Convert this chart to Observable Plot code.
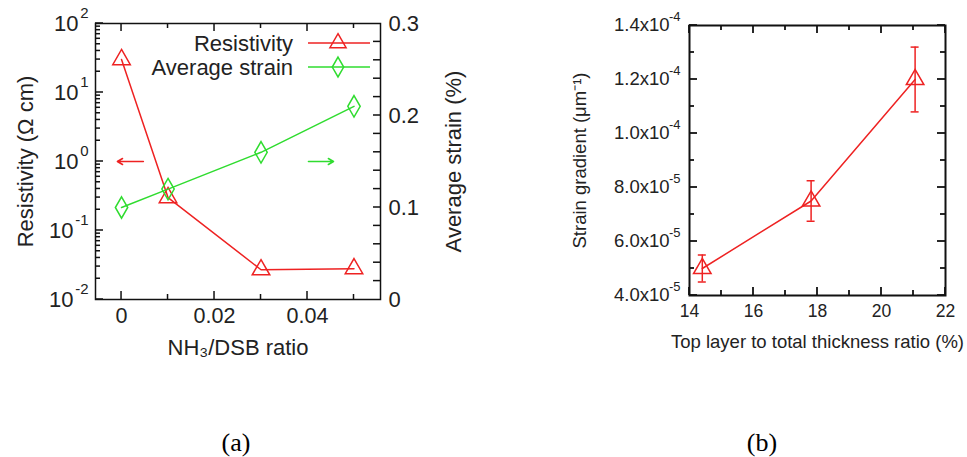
<!DOCTYPE html>
<html>
<head>
<meta charset="utf-8">
<script src="https://cdn.jsdelivr.net/npm/d3@7"></script>
<script src="https://cdn.jsdelivr.net/npm/@observablehq/plot@0.6"></script>
<style>
  html, body { margin: 0; padding: 0; background: #fff; }
  #root { position: relative; width: 967px; height: 457px; overflow: hidden; background: #fff;
          font-family: "Liberation Sans", Arial, Helvetica, sans-serif; color: #222; }
  .panel { position: absolute; top: 0; }
  .cap { position: absolute; top: 432px; font-family: "Liberation Serif", "Times New Roman", serif;
         font-size: 26px; line-height: 22px; color: #000; transform: translateX(-50%); }
</style>
</head>
<body>
<div id="root">
  <div id="a1" class="panel" style="left:0;width:480px"></div>
  <div id="a2" class="panel" style="left:0;width:480px"></div>
  <div id="b" class="panel" style="left:480px;width:487px"></div>
  <div class="cap" style="left:236px">(a)</div>
  <div class="cap" style="left:762px">(b)</div>
</div>
<script>
// ---------- data: panel (a) ----------
const ratio = [0, 0.01, 0.03, 0.05];
const resistivity = [30, 0.3, 0.027, 0.028];      // Ω cm
const avgStrain = [0.10, 0.12, 0.16, 0.21];       // %

// ---------- data: panel (b) ----------
const thickness = [14.4, 17.8, 21.05];            // %
const strainGradient = [5.0e-5, 7.5e-5, 1.2e-4];  // µm^-1
const gradientError = [0.5e-5, 0.75e-5, 1.2e-5];

// ---------- ticks / labels ----------
const aXMajor = [0, 0.02, 0.04];
const aXMinor = [0.01, 0.03, 0.05];
const aResDecades = [0.01, 0.1, 1, 10, 100];
const aStrainLabels = [0, 0.1, 0.2, 0.3];
const aStrainTicks = [0.02, 0.04, 0.06, 0.08, 0.1, 0.12, 0.14, 0.16, 0.18, 0.2, 0.22, 0.24, 0.26, 0.28];
const bXMajor = [14, 16, 18, 20, 22];
const bXMinor = [15, 17, 19, 21];
const bYMajor = [4e-5, 6e-5, 8e-5, 1.0e-4, 1.2e-4, 1.4e-4];
const bYMinor = [5e-5, 7e-5, 9e-5, 1.1e-4, 1.3e-4];

// direction arrows (annotation)
const resArrow = [{from: 0.0047, to: -0.0009, at: 1}];
const strainArrow = [{from: 0.0402, to: 0.0456, at: 0.15}];

const RED = "#ee2222";
const GREEN = "#2fdc2f";
const INK = "#222";
const FONT = "Liberation Sans, Arial, sans-serif";

const aResMinor = aResDecades.slice(0, -1).flatMap(d => [2,3,4,5,6,7,8,9].map(k => +(d * k).toPrecision(3)));

const resData = ratio.map((x, i) => ({x, y: resistivity[i]}));
const strainData = ratio.map((x, i) => ({x, y: avgStrain[i]}));
const gradData = thickness.map((x, i) => ({x, y: strainGradient[i], lo: strainGradient[i] - gradientError[i], hi: strainGradient[i] + gradientError[i]}));

const xDomainA = [-0.0056, 0.0557];

// inward frame ticks: a render mark that places each tick through the plot's own scales
function frameTicks(specs, w = 1.5) {
  return (index, scales, values, dims) => {
    const g = d3.create("svg:g").attr("stroke", "#111").attr("stroke-width", w).attr("fill", "none");
    const L = dims.marginLeft, R = dims.width - dims.marginRight;
    const T = dims.marginTop, B = dims.height - dims.marginBottom;
    for (const {values: vals, anchor, size} of specs) {
      for (const v of vals) {
        if (anchor === "bottom" || anchor === "top") {
          const x = scales.x(v);
          if (!(x >= L - 0.5 && x <= R + 0.5)) continue;
          const y0 = anchor === "bottom" ? B : T;
          const y1 = anchor === "bottom" ? B - size : T + size;
          g.append("line").attr("x1", x).attr("x2", x).attr("y1", y0).attr("y2", y1);
        } else {
          const y = scales.y(v);
          if (!(y >= T - 0.5 && y <= B + 0.5)) continue;
          const x0 = anchor === "left" ? L : R;
          const x1 = anchor === "left" ? L + size : R - size;
          g.append("line").attr("x1", x0).attr("x2", x1).attr("y1", y).attr("y2", y);
        }
      }
    }
    return g.node();
  };
}

const expo = d => Math.floor(Math.log10(d) + 1e-9);

function legendMark(items) {
  return (index, scales, values, dims) => {
    const g = d3.create("svg:g");
    const xr = dims.width - dims.marginRight;
    items.forEach((it, i) => {
      const y = dims.marginTop + 20 + i * 24;
      g.append("text").attr("x", xr - 87).attr("y", y).attr("dy", "0.35em")
        .attr("text-anchor", "end").attr("font-size", 22).attr("fill", INK).text(it.label);
      g.append("line").attr("x1", xr - 72).attr("x2", xr - 10).attr("y1", y).attr("y2", y)
        .attr("stroke", it.color).attr("stroke-width", 1.5);
      g.append("path").attr("transform", `translate(${xr - 42},${y})`)
        .attr("d", d3.symbol().type(it.symbol).size(Math.PI * 6 * 6)())
        .attr("fill", "none").attr("stroke", it.color).attr("stroke-width", 1.5);
    });
    return g.node();
  };
}

const posDec = aResDecades.filter(d => d >= 1);
const negDec = aResDecades.filter(d => d < 1);

// ---------- panel (a): resistivity (log, left) ----------
const a1 = Plot.plot({
  width: 480, height: 370,
  marginLeft: 95, marginRight: 100, marginTop: 23, marginBottom: 71,
  style: {background: "transparent", overflow: "visible", fontFamily: FONT, color: INK},
  x: {domain: xDomainA},
  y: {type: "log", domain: [0.01, 100], axis: null},
  marks: [
    frameTicks([
      {values: aXMajor, anchor: "bottom", size: 8},
      {values: aXMinor, anchor: "bottom", size: 5},
      {values: aXMajor, anchor: "top", size: 8},
      {values: aXMinor, anchor: "top", size: 5},
      {values: aResDecades, anchor: "left", size: 8},
      {values: aResMinor, anchor: "left", size: 5}
    ]),
    Plot.axisX(aXMajor, {anchor: "bottom", tickSize: 0, tickPadding: 8, fontSize: 21.5, label: null, tickFormat: d => String(d)}),
    // log labels 10^n (base + raised exponent)
    Plot.text(posDec, {y: d => d, frameAnchor: "left", textAnchor: "end", dx: -17, fontSize: 22, fill: INK, text: () => "10"}),
    Plot.text(negDec, {y: d => d, frameAnchor: "left", textAnchor: "end", dx: -22, fontSize: 22, fill: INK, text: () => "10"}),
    Plot.text(aResDecades, {y: d => d, frameAnchor: "left", textAnchor: "end", dx: -7, dy: -10, fontSize: 15, fill: INK, text: d => String(expo(d))}),
    Plot.text(["Resistivity (\u03A9 cm)"], {frameAnchor: "left", textAnchor: "middle", lineAnchor: "middle", rotate: -90, dx: -70, fontSize: 22, fill: INK, text: d => d}),
    Plot.text(["NH\u2083/DSB ratio"], {frameAnchor: "bottom", textAnchor: "middle", lineAnchor: "middle", dy: 48, fontSize: 22, fill: INK, text: d => d}),
    Plot.arrow(resArrow, {x1: "from", x2: "to", y1: "at", y2: "at", stroke: RED, strokeWidth: 1.5, headLength: 6}),
    Plot.line(resData, {x: "x", y: "y", stroke: RED, strokeWidth: 1.5}),
    Plot.dot(resData, {x: "x", y: "y", symbol: "triangle", r: 6.5, stroke: RED, strokeWidth: 1.5, fill: "none"}),
    legendMark([
      {label: "Resistivity", color: RED, symbol: d3.symbolTriangle},
      {label: "Average strain", color: GREEN, symbol: d3.symbolDiamond}
    ])
  ]
});
document.getElementById("a1").append(a1);

// ---------- panel (a): average strain (linear, right) ----------
const a2 = Plot.plot({
  width: 480, height: 370,
  marginLeft: 95, marginRight: 100, marginTop: 23, marginBottom: 71,
  style: {background: "transparent", overflow: "visible", fontFamily: FONT, color: INK},
  x: {domain: xDomainA, axis: null},
  y: {domain: [0, 0.3]},
  marks: [
    frameTicks([{values: aStrainTicks, anchor: "right", size: 7}]),
    Plot.axisY(aStrainLabels, {anchor: "right", tickSize: 0, tickPadding: 8, fontSize: 22, label: null, tickFormat: d => String(d)}),
    Plot.text(["Average strain (%)"], {frameAnchor: "right", textAnchor: "middle", lineAnchor: "middle", rotate: -90, dx: 73, fontSize: 22, fill: INK, text: d => d}),
    Plot.arrow(strainArrow, {x1: "from", x2: "to", y1: "at", y2: "at", stroke: GREEN, strokeWidth: 1.5, headLength: 6}),
    Plot.line(strainData, {x: "x", y: "y", stroke: GREEN, strokeWidth: 1.5}),
    Plot.dot(strainData, {x: "x", y: "y", symbol: "diamond", r: 6.5, stroke: GREEN, strokeWidth: 1.5, fill: "none"}),
    Plot.frame({stroke: "#111", strokeWidth: 1.5})
  ]
});
document.getElementById("a2").append(a2);

// ---------- panel (b) ----------
const mant = d => (d / Math.pow(10, expo(d))).toFixed(1) + "x10";
const b = Plot.plot({
  width: 487, height: 370,
  marginLeft: 209, marginRight: 22, marginTop: 25, marginBottom: 75,
  style: {background: "transparent", overflow: "visible", fontFamily: FONT, color: INK},
  x: {domain: [14, 22]},
  y: {domain: [4e-5, 1.4e-4], axis: null},
  marks: [
    frameTicks([
      {values: bXMajor, anchor: "bottom", size: 8},
      {values: bXMinor, anchor: "bottom", size: 5},
      {values: bXMajor, anchor: "top", size: 8},
      {values: bXMinor, anchor: "top", size: 5},
      {values: bYMajor, anchor: "left", size: 8},
      {values: bYMinor, anchor: "left", size: 5},
      {values: bYMajor, anchor: "right", size: 8},
      {values: bYMinor, anchor: "right", size: 5}
    ], 1.8),
    Plot.axisX(bXMajor, {anchor: "bottom", tickSize: 0, tickPadding: 9, fontSize: 17.5, label: null, tickFormat: d => String(d)}),
    Plot.text(bYMajor, {y: d => d, frameAnchor: "left", textAnchor: "end", dx: -20, fontSize: 18.5, fill: INK, text: mant}),
    Plot.text(bYMajor, {y: d => d, frameAnchor: "left", textAnchor: "end", dx: -9, dy: -9, fontSize: 13, fill: INK, text: d => String(expo(d))}),
    Plot.text(["Strain gradient (\u03BCm\u207B\u00B9)"], {frameAnchor: "left", textAnchor: "middle", lineAnchor: "middle", rotate: -90, dx: -109, fontSize: 18.5, fill: INK, text: d => d}),
    Plot.text(["Top layer to total thickness ratio (%)"], {frameAnchor: "bottom", textAnchor: "middle", lineAnchor: "middle", dy: 47, fontSize: 18.5, fill: INK, text: d => d}),
    Plot.ruleX(gradData, {x: "x", y1: "lo", y2: "hi", stroke: RED, strokeWidth: 1.5}),
    Plot.ruleY(gradData, {y: "lo", x1: "x", x2: "x", insetLeft: -4, insetRight: -4, stroke: RED, strokeWidth: 1.5}),
    Plot.ruleY(gradData, {y: "hi", x1: "x", x2: "x", insetLeft: -4, insetRight: -4, stroke: RED, strokeWidth: 1.5}),
    Plot.line(gradData, {x: "x", y: "y", stroke: RED, strokeWidth: 1.5}),
    Plot.dot(gradData, {x: "x", y: "y", symbol: "triangle", r: 6.5, stroke: RED, strokeWidth: 1.5, fill: "none"}),
    Plot.frame({stroke: "#111", strokeWidth: 2})
  ]
});
document.getElementById("b").append(b);
</script>
</body>
</html>
